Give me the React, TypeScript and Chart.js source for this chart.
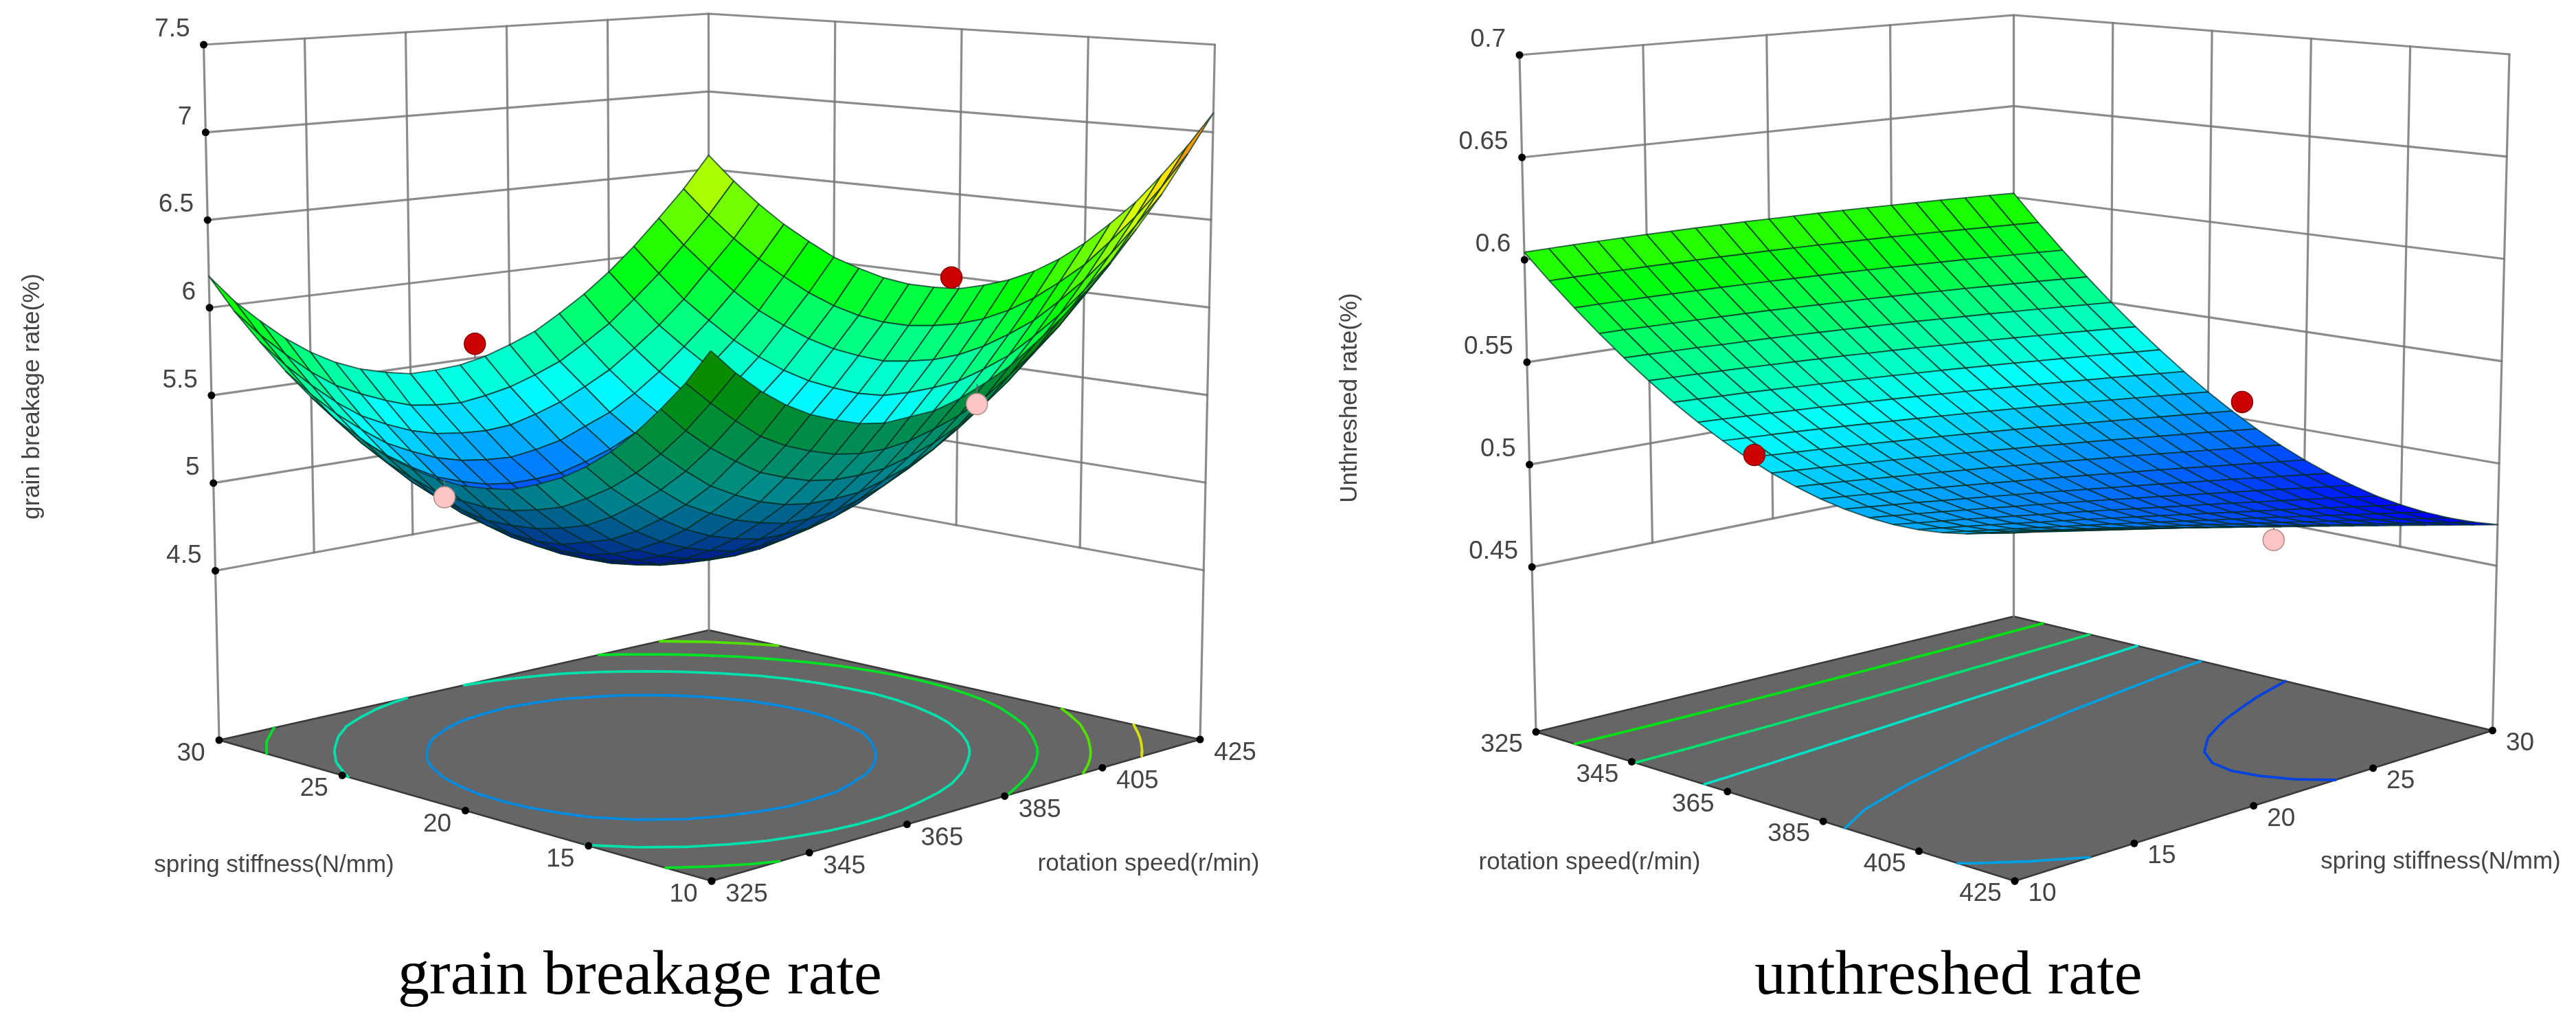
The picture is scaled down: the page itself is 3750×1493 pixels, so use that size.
import { useEffect, useRef } from "react";
import { Chart, registerables } from "chart.js";

Chart.register(...registerables);

const springSteps = [10, 11, 12, 13, 14, 15, 16, 17, 18, 19, 20, 21, 22, 23, 24, 25, 26, 27, 28, 29, 30];
const rotationSteps = [325, 330, 335, 340, 345, 350, 355, 360, 365, 370, 375, 380, 385, 390, 395, 400, 405, 410, 415, 420, 425];
const springTicks = [10, 15, 20, 25, 30];
const rotationTicks = [325, 345, 365, 385, 405, 425];
const breakageTicks = ["4.5", "5", "5.5", "6", "6.5", "7", "7.5"];
const unthreshedTicks = ["0.45", "0.5", "0.55", "0.6", "0.65", "0.7"];

// rows: spring stiffness 10 to 30, columns: rotation speed 325 to 425
const breakageRate = [
  [6.17,6.04,5.93,5.84,5.77,5.72,5.68,5.66,5.67,5.68,5.72,5.78,5.85,5.95,6.06,6.19,6.33,6.50,6.68,6.89,7.11],
  [5.99,5.87,5.76,5.66,5.59,5.54,5.50,5.48,5.48,5.50,5.54,5.59,5.66,5.76,5.87,5.99,6.14,6.30,6.49,6.69,6.91],
  [5.84,5.71,5.60,5.51,5.43,5.38,5.34,5.32,5.32,5.33,5.37,5.42,5.49,5.58,5.69,5.82,5.96,6.13,6.31,6.51,6.73],
  [5.70,5.57,5.46,5.36,5.29,5.23,5.19,5.17,5.17,5.18,5.22,5.27,5.34,5.43,5.54,5.66,5.80,5.97,6.15,6.35,6.56],
  [5.58,5.45,5.34,5.24,5.17,5.11,5.07,5.04,5.04,5.05,5.09,5.14,5.21,5.29,5.40,5.52,5.67,5.83,6.01,6.20,6.42],
  [5.48,5.35,5.24,5.14,5.06,5.00,4.96,4.93,4.93,4.94,4.97,5.02,5.09,5.18,5.28,5.40,5.54,5.70,5.88,6.08,6.29],
  [5.40,5.27,5.15,5.05,4.97,4.91,4.87,4.84,4.84,4.85,4.88,4.93,4.99,5.08,5.18,5.30,5.44,5.60,5.78,5.97,6.18],
  [5.34,5.20,5.08,4.98,4.90,4.84,4.80,4.77,4.76,4.77,4.80,4.85,4.91,5.00,5.10,5.22,5.36,5.51,5.69,5.88,6.09],
  [5.29,5.16,5.04,4.94,4.85,4.79,4.74,4.72,4.71,4.72,4.74,4.79,4.85,4.93,5.03,5.15,5.29,5.45,5.62,5.81,6.02],
  [5.27,5.13,5.01,4.90,4.82,4.76,4.71,4.68,4.67,4.68,4.70,4.75,4.81,4.89,4.99,5.11,5.24,5.40,5.57,5.76,5.97],
  [5.26,5.12,5.00,4.89,4.81,4.74,4.69,4.66,4.65,4.66,4.68,4.72,4.79,4.86,4.96,5.08,5.21,5.36,5.54,5.73,5.93],
  [5.27,5.13,5.00,4.90,4.81,4.74,4.69,4.66,4.65,4.65,4.68,4.72,4.78,4.86,4.95,5.07,5.20,5.35,5.52,5.71,5.92],
  [5.30,5.15,5.03,4.92,4.83,4.76,4.71,4.68,4.67,4.67,4.69,4.73,4.79,4.87,4.96,5.08,5.21,5.36,5.53,5.71,5.92],
  [5.34,5.20,5.07,4.96,4.87,4.80,4.75,4.72,4.70,4.70,4.72,4.76,4.82,4.90,4.99,5.10,5.23,5.38,5.55,5.73,5.94],
  [5.41,5.26,5.13,5.02,4.93,4.86,4.81,4.77,4.76,4.76,4.78,4.81,4.87,4.94,5.04,5.15,5.28,5.42,5.59,5.77,5.98],
  [5.49,5.34,5.21,5.10,5.01,4.94,4.88,4.85,4.83,4.83,4.85,4.88,4.94,5.01,5.10,5.21,5.34,5.48,5.65,5.83,6.03],
  [5.59,5.44,5.31,5.20,5.11,5.03,4.98,4.94,4.92,4.92,4.93,4.97,5.02,5.09,5.18,5.29,5.42,5.56,5.72,5.91,6.11],
  [5.71,5.56,5.43,5.32,5.22,5.15,5.09,5.05,5.03,5.02,5.04,5.07,5.13,5.19,5.28,5.39,5.52,5.66,5.82,6.00,6.20],
  [5.85,5.70,5.57,5.45,5.35,5.28,5.22,5.18,5.16,5.15,5.16,5.20,5.25,5.32,5.40,5.51,5.63,5.77,5.94,6.11,6.31],
  [6.00,5.85,5.72,5.60,5.50,5.43,5.37,5.32,5.30,5.29,5.31,5.34,5.39,5.45,5.54,5.64,5.77,5.91,6.07,6.24,6.44],
  [6.18,6.02,5.89,5.77,5.67,5.59,5.53,5.49,5.46,5.46,5.47,5.50,5.55,5.61,5.70,5.80,5.92,6.06,6.22,6.39,6.59],
];

// rows: spring stiffness 10 to 30, columns: rotation speed 325 to 425
const unthreshedRate = [
  [.6037,.5918,.5808,.5706,.5612,.5526,.5447,.5377,.5315,.5260,.5214,.5176,.5145,.5123,.5109,.5102,.5104,.5114,.5132,.5157,.5191],
  [.6040,.5920,.5809,.5706,.5610,.5523,.5443,.5372,.5308,.5252,.5205,.5166,.5134,.5111,.5095,.5087,.5088,.5097,.5114,.5137,.5170],
  [.6043,.5921,.5809,.5704,.5608,.5520,.5438,.5366,.5302,.5244,.5196,.5156,.5122,.5098,.5081,.5072,.5072,.5079,.5095,.5118,.5149],
  [.6045,.5922,.5809,.5703,.5606,.5516,.5434,.5360,.5295,.5236,.5186,.5145,.5110,.5085,.5067,.5057,.5055,.5061,.5076,.5097,.5128],
  [.6047,.5923,.5808,.5701,.5602,.5512,.5428,.5353,.5287,.5227,.5176,.5133,.5098,.5071,.5052,.5040,.5038,.5043,.5056,.5076,.5106],
  [.6048,.5923,.5807,.5699,.5599,.5507,.5422,.5347,.5279,.5218,.5166,.5122,.5085,.5057,.5037,.5024,.5020,.5024,.5036,.5055,.5083],
  [.6049,.5923,.5806,.5697,.5596,.5502,.5416,.5339,.5270,.5208,.5155,.5110,.5072,.5043,.5021,.5007,.5002,.5005,.5016,.5034,.5061],
  [.6050,.5922,.5804,.5694,.5592,.5497,.5410,.5332,.5261,.5198,.5144,.5097,.5058,.5028,.5006,.4990,.4984,.4986,.4995,.5012,.5038],
  [.6050,.5921,.5802,.5690,.5587,.5492,.5403,.5324,.5252,.5188,.5132,.5085,.5044,.5013,.4989,.4973,.4965,.4966,.4974,.4990,.5014],
  [.6050,.5920,.5799,.5686,.5582,.5485,.5396,.5315,.5242,.5177,.5120,.5071,.5030,.4997,.4972,.4955,.4946,.4945,.4953,.4967,.4990],
  [.6049,.5918,.5796,.5682,.5577,.5479,.5388,.5306,.5232,.5165,.5107,.5058,.5015,.4981,.4955,.4936,.4926,.4924,.4931,.4944,.4966],
  [.6048,.5916,.5793,.5678,.5571,.5472,.5380,.5297,.5222,.5154,.5095,.5044,.5000,.4964,.4937,.4917,.4906,.4903,.4908,.4920,.4941],
  [.6047,.5913,.5789,.5673,.5565,.5464,.5371,.5287,.5211,.5142,.5081,.5029,.4984,.4948,.4920,.4898,.4886,.4882,.4886,.4897,.4916],
  [.6045,.5910,.5785,.5668,.5558,.5457,.5362,.5277,.5200,.5129,.5068,.5014,.4968,.4931,.4901,.4879,.4865,.4860,.4863,.4872,.4891],
  [.6043,.5907,.5780,.5662,.5551,.5449,.5353,.5267,.5188,.5116,.5054,.4999,.4952,.4913,.4882,.4859,.4844,.4838,.4839,.4847,.4865],
  [.6040,.5903,.5775,.5656,.5544,.5440,.5343,.5256,.5176,.5103,.5039,.4983,.4935,.4895,.4863,.4838,.4823,.4815,.4815,.4822,.4838],
  [.6037,.5899,.5770,.5649,.5536,.5431,.5333,.5244,.5163,.5089,.5024,.4967,.4917,.4877,.4844,.4818,.4801,.4792,.4791,.4797,.4812],
  [.6034,.5894,.5764,.5642,.5528,.5422,.5323,.5233,.5150,.5075,.5009,.4951,.4900,.4858,.4824,.4796,.4778,.4768,.4766,.4771,.4785],
  [.6030,.5889,.5758,.5635,.5519,.5412,.5312,.5220,.5137,.5061,.4994,.4934,.4882,.4839,.4803,.4775,.4756,.4744,.4741,.4745,.4757],
  [.6026,.5884,.5752,.5627,.5510,.5402,.5300,.5208,.5123,.5046,.4977,.4917,.4863,.4819,.4782,.4753,.4732,.4720,.4715,.4718,.4729],
  [.6021,.5878,.5745,.5619,.5501,.5391,.5289,.5195,.5109,.5031,.4961,.4899,.4845,.4799,.4761,.4730,.4709,.4695,.4689,.4691,.4701],
];

const breakageContours = [5.06, 5.47, 5.86, 6.22, 6.61];
const unthreshedContours = [0.488, 0.5125, 0.5375, 0.56, 0.585];

const breakagePointSpring = [30, 20.3, 20.7, 10];
const breakagePointRotation = [378, 425, 325, 378.5];
const breakagePointRate = [5.585, 5.993, 5.18, 5.676];
const breakagePointAbove = [true, true, false, false];

const unthreshedPointSpring = [10, 30, 20.7];
const unthreshedPointRotation = [371.5, 372, 425];
const unthreshedPointRate = [0.528, 0.5087, 0.4888];
const unthreshedPointAbove = [true, true, false];

type Pt = { x: number; y: number };
type Quad = { left: Pt; back: Pt; right: Pt; front: Pt };

interface Panel {
  table: number[][];
  zTicks: string[];
  contours: number[];
  pointSpring: number[];
  pointRotation: number[];
  pointRate: number[];
  pointAbove: boolean[];
  zFloor: number;
  zTop: number;
  colorMin: number;
  colorMax: number;
  floor: Quad;
  top: Quad;
  s: (spring: number, rot: number) => number;
  t: (spring: number, rot: number) => number;
  sTicks: number[];
  tTicks: number[];
  sOffset: Pt;
  tOffset: Pt;
  sValue: (v: number) => [number, number];
  tValue: (v: number) => [number, number];
  zTitle: string;
  zTitlePos: Pt;
  sTitle: string;
  sTitlePos: Pt;
  tTitle: string;
  tTitlePos: Pt;
  caption: string;
  captionX: number;
}

const panels: Panel[] = [
  {
    table: breakageRate,
    zTicks: breakageTicks,
    contours: breakageContours,
    pointSpring: breakagePointSpring,
    pointRotation: breakagePointRotation,
    pointRate: breakagePointRate,
    pointAbove: breakagePointAbove,
    zFloor: 3.534,
    zTop: 7.5,
    colorMin: 4.65,
    colorMax: 7.3,
    floor: { left: { x: 319, y: 1077 }, back: { x: 1032, y: 917 }, right: { x: 1747, y: 1076 }, front: { x: 1036, y: 1282 } },
    top: { left: { x: 296.5, y: 65 }, back: { x: 1031.5, y: 20 }, right: { x: 1768.5, y: 65 }, front: { x: 1034, y: 121 } },
    s: (spring) => (30 - spring) / 20,
    t: (_spring, rot) => (rot - 325) / 100,
    sTicks: springTicks,
    tTicks: rotationTicks,
    sOffset: { x: -41, y: 20 },
    tOffset: { x: 51, y: 20 },
    sValue: (v) => [v, 325],
    tValue: (v) => [10, v],
    zTitle: "grain breakage rate(%)",
    zTitlePos: { x: 47, y: 577 },
    sTitle: "spring stiffness(N/mm)",
    sTitlePos: { x: 399, y: 1259 },
    tTitle: "rotation speed(r/min)",
    tTitlePos: { x: 1672, y: 1257 },
    caption: "grain breakage rate",
    captionX: 579,
  },
  {
    table: unthreshedRate,
    zTicks: unthreshedTicks,
    contours: unthreshedContours,
    pointSpring: unthreshedPointSpring,
    pointRotation: unthreshedPointRotation,
    pointRate: unthreshedPointRate,
    pointAbove: unthreshedPointAbove,
    zFloor: 0.3695,
    zTop: 0.7,
    colorMin: 0.47,
    colorMax: 0.71,
    floor: { left: { x: 2236, y: 1065 }, back: { x: 2931.5, y: 897 }, right: { x: 3628.5, y: 1063 }, front: { x: 2933, y: 1282 } },
    top: { left: { x: 2212, y: 80 }, back: { x: 2931.5, y: 22 }, right: { x: 3653, y: 79 }, front: { x: 2933, y: 156 } },
    s: (_spring, rot) => (rot - 325) / 100,
    t: (spring) => (spring - 10) / 20,
    sTicks: rotationTicks,
    tTicks: springTicks,
    sOffset: { x: -50, y: 19 },
    tOffset: { x: 40, y: 19 },
    sValue: (v) => [10, v],
    tValue: (v) => [v, 425],
    zTitle: "Unthreshed rate(%)",
    zTitlePos: { x: 1965, y: 579 },
    sTitle: "rotation speed(r/min)",
    sTitlePos: { x: 2314, y: 1255 },
    tTitle: "spring stiffness(N/mm)",
    tTitlePos: { x: 3553, y: 1254 },
    caption: "unthreshed rate",
    captionX: 2554,
  },
];

function bilinear(q: Quad, s: number, t: number): Pt {
  const w = [(1 - s) * (1 - t), s * (1 - t), (1 - s) * t, s * t];
  return {
    x: w[0] * q.left.x + w[1] * q.front.x + w[2] * q.back.x + w[3] * q.right.x,
    y: w[0] * q.left.y + w[1] * q.front.y + w[2] * q.back.y + w[3] * q.right.y,
  };
}

function projectST(p: Panel, s: number, t: number, z: number): Pt {
  const f = bilinear(p.floor, s, t);
  const u = bilinear(p.top, s, t);
  const w = (z - p.zFloor) / (p.zTop - p.zFloor);
  return { x: f.x + (u.x - f.x) * w, y: f.y + (u.y - f.y) * w };
}

function project(p: Panel, spring: number, rot: number, z: number): Pt {
  return projectST(p, p.s(spring, rot), p.t(spring, rot), z);
}

const rampStops = [
  [0, 0, 255],
  [0, 255, 255],
  [0, 255, 0],
  [255, 255, 0],
  [255, 0, 0],
];

function ramp(p: Panel, z: number, k = 1): string {
  const v = Math.min(0.9999, Math.max(0, (z - p.colorMin) / (p.colorMax - p.colorMin))) * 4;
  const i = Math.floor(v);
  const f = v - i;
  const c = [0, 1, 2].map((n) => Math.round((rampStops[i][n] + (rampStops[i + 1][n] - rampStops[i][n]) * f) * k));
  return `rgb(${c[0]},${c[1]},${c[2]})`;
}

function area(q: Pt[]): number {
  let a = 0;
  q.forEach((v, i) => {
    const n = q[(i + 1) % q.length];
    a += v.x * n.y - n.x * v.y;
  });
  return a / 2;
}

const GRID = "rgba(120,120,120,0.85)";

function lineSet(data: Pt[], color: string, width: number) {
  return { data, showLine: true, fill: false, borderColor: color, borderWidth: width, pointRadius: 0, borderCapStyle: "round", borderJoinStyle: "round", spanGaps: false };
}

function polySet(pts: Pt[], fillColor: string, border: string, width: number) {
  return { data: [...pts, pts[0]], showLine: true, fill: "shape", backgroundColor: fillColor, borderColor: border, borderWidth: width, pointRadius: 0, borderJoinStyle: "round" };
}

function dotSet(data: Pt[], color: string, border: string, radius: number) {
  return { data, showLine: false, pointRadius: radius, pointBackgroundColor: color, pointBorderColor: border, pointBorderWidth: radius > 8 ? 1.5 : 0 };
}

function contourSegments(p: Panel, level: number): Pt[] {
  const out: Pt[] = [];
  const tb = p.table;
  const at = (i: number, j: number, i2: number, j2: number): Pt | null => {
    const a = tb[i][j];
    const b = tb[i2][j2];
    if ((a < level) === (b < level)) return null;
    const f = (level - a) / (b - a);
    const spring = springSteps[i] + (springSteps[i2] - springSteps[i]) * f;
    const rot = rotationSteps[j] + (rotationSteps[j2] - rotationSteps[j]) * f;
    const q = bilinear(p.floor, p.s(spring, rot), p.t(spring, rot));
    return q;
  };
  for (let i = 0; i < springSteps.length - 1; i++) {
    for (let j = 0; j < rotationSteps.length - 1; j++) {
      const hits = [at(i, j, i + 1, j), at(i + 1, j, i + 1, j + 1), at(i, j + 1, i + 1, j + 1), at(i, j, i, j + 1)].filter(Boolean) as Pt[];
      if (hits.length >= 2) out.push(hits[0], hits[1], { x: NaN, y: NaN });
      if (hits.length === 4) out.push(hits[2], hits[3], { x: NaN, y: NaN });
    }
  }
  return out;
}

function panelDatasets(p: Panel): any[] {
  const sets: any[] = [];
  const zNums = p.zTicks.map(Number);
  const zLow = zNums[0];
  const f = p.floor;
  // floor
  sets.push(polySet([f.left, f.back, f.right, f.front], "#666666", "#3a3a3a", 2.5));
  // contours
  p.contours.forEach((c) => sets.push(lineSet(contourSegments(p, c), ramp(p, c, 0.88), 3.8)));
  // walls
  const wallS = p.sTicks.slice(1, -1);
  const wallT = p.tTicks.slice(1, -1);
  const sv = (v: number) => { const [a, b] = p.sValue(v); return p.s(a, b); };
  const tv = (v: number) => { const [a, b] = p.tValue(v); return p.t(a, b); };
  zNums.forEach((z) => {
    sets.push(lineSet([projectST(p, 0, 0, z), projectST(p, 0, 1, z), projectST(p, 1, 1, z)], GRID, 3.2));
  });
  wallT.forEach((v) => sets.push(lineSet([projectST(p, 0, tv(v), zLow), projectST(p, 0, tv(v), p.zTop)], GRID, 3.2)));
  wallS.forEach((v) => sets.push(lineSet([projectST(p, sv(v), 1, zLow), projectST(p, sv(v), 1, p.zTop)], GRID, 3.2)));
  [[0, 0], [0, 1], [1, 1]].forEach(([a, b]) =>
    sets.push(lineSet([projectST(p, a, b, p.zFloor), projectST(p, a, b, p.zTop)], GRID, 3.2))
  );
  // tick marks
  sets.push(dotSet(zNums.map((z) => projectST(p, 0, 0, z)), "#000", "#000", 5.5));
  sets.push(dotSet(p.sTicks.map((v) => bilinear(f, sv(v), 0)), "#000", "#000", 5.5));
  sets.push(dotSet(p.tTicks.map((v) => bilinear(f, 1, tv(v))), "#000", "#000", 5.5));
  // surface cells, from the far corner to the near corner
  const cells: { depth: number; set: any }[] = [];
  for (let i = 0; i < springSteps.length - 1; i++) {
    for (let j = 0; j < rotationSteps.length - 1; j++) {
      const corners = [[i, j], [i + 1, j], [i + 1, j + 1], [i, j + 1]];
      const pts = corners.map(([a, b]) => project(p, springSteps[a], rotationSteps[b], p.table[a][b]));
      const base = corners.map(([a, b]) => bilinear(f, p.s(springSteps[a], rotationSteps[b]), p.t(springSteps[a], rotationSteps[b])));
      const mean = corners.reduce((acc, [a, b]) => acc + p.table[a][b], 0) / 4;
      const under = area(pts) * area(base) < 0;
      const depth = corners.reduce((acc, [a, b]) => acc + p.s(springSteps[a], rotationSteps[b]) - p.t(springSteps[a], rotationSteps[b]), 0);
      cells.push({
        depth,
        set: polySet(pts, ramp(p, mean, under ? 0.55 : 1), "rgba(0,45,35,0.72)", 1.9),
      });
    }
  }
  cells.sort((a, b) => a.depth - b.depth).forEach((c) => sets.push(c.set));
  // design points
  p.pointRate.forEach((z, n) => {
    const spring = p.pointSpring[n];
    const rot = p.pointRotation[n];
    const i = Math.round(spring - springSteps[0]);
    const j = Math.round((rot - rotationSteps[0]) / 5);
    const at = project(p, spring, rot, z);
    sets.push(lineSet([at, project(p, spring, rot, p.table[i][j])], "#666", 2));
    sets.push(dotSet([at], p.pointAbove[n] ? "#cc0000" : "#ffc4c4", p.pointAbove[n] ? "#8a0000" : "#b08a8a", 15.5));
  });
  return sets;
}

const textPlugin = {
  id: "panelText",
  afterDatasetsDraw(chart: any) {
    const { ctx, scales } = chart;
    const X = (v: number) => scales.x.getPixelForValue(v);
    const Y = (v: number) => scales.y.getPixelForValue(v);
    ctx.save();
    const ink = "#444444";
    panels.forEach((p) => {
      ctx.fillStyle = ink;
      ctx.font = '37px "Liberation Sans"';
      ctx.textBaseline = "middle";
      ctx.textAlign = "right";
      p.zTicks.forEach((label) => {
        const at = projectST(p, 0, 0, Number(label));
        ctx.fillText(label, X(at.x) - 20, Y(at.y) - 22);
      });
      ctx.textAlign = "center";
      p.sTicks.forEach((v) => {
        const [a, b] = p.sValue(v);
        const at = bilinear(p.floor, p.s(a, b), 0);
        ctx.fillText(String(v), X(at.x + p.sOffset.x), Y(at.y + p.sOffset.y));
      });
      p.tTicks.forEach((v) => {
        const [a, b] = p.tValue(v);
        const at = bilinear(p.floor, 1, p.t(a, b));
        ctx.fillText(String(v), X(at.x + p.tOffset.x), Y(at.y + p.tOffset.y));
      });
      ctx.font = '35px "Liberation Sans"';
      ctx.fillText(p.sTitle, X(p.sTitlePos.x), Y(p.sTitlePos.y));
      ctx.fillText(p.tTitle, X(p.tTitlePos.x), Y(p.tTitlePos.y));
      ctx.save();
      ctx.translate(X(p.zTitlePos.x), Y(p.zTitlePos.y));
      ctx.rotate(-Math.PI / 2);
      ctx.fillText(p.zTitle, 0, 0);
      ctx.restore();
      ctx.fillStyle = "#000";
      ctx.font = '92px "Liberation Serif"';
      ctx.textAlign = "left";
      ctx.textBaseline = "alphabetic";
      ctx.fillText(p.caption, X(p.captionX), Y(1446));
    });
    ctx.restore();
  },
};

export default function App() {
  const ref = useRef<HTMLCanvasElement | null>(null);
  useEffect(() => {
    if (!ref.current) return;
    const painted = [...panelDatasets(panels[0]), ...panelDatasets(panels[1])];
    painted.forEach((d, i) => { d.order = painted.length - i; });
    const chart = new Chart(ref.current, {
      type: "scatter",
      data: { datasets: painted },
      options: {
        animation: false,
        responsive: false,
        devicePixelRatio: 1,
        events: [],
        layout: { padding: 0, autoPadding: false },
        plugins: { legend: { display: false }, tooltip: { enabled: false } },
        scales: {
          x: { type: "linear", min: 0, max: 3750, display: false },
          y: { type: "linear", min: 0, max: 1493, reverse: true, display: false },
        },
      },
      plugins: [textPlugin],
    } as any);
    return () => chart.destroy();
  }, []);
  return (
    <div style={{ position: "absolute", left: 0, top: 0, width: 3750, height: 1493, background: "#fff" }}>
      <canvas ref={ref} width={3750} height={1493} style={{ display: "block" }} />
    </div>
  );
}
